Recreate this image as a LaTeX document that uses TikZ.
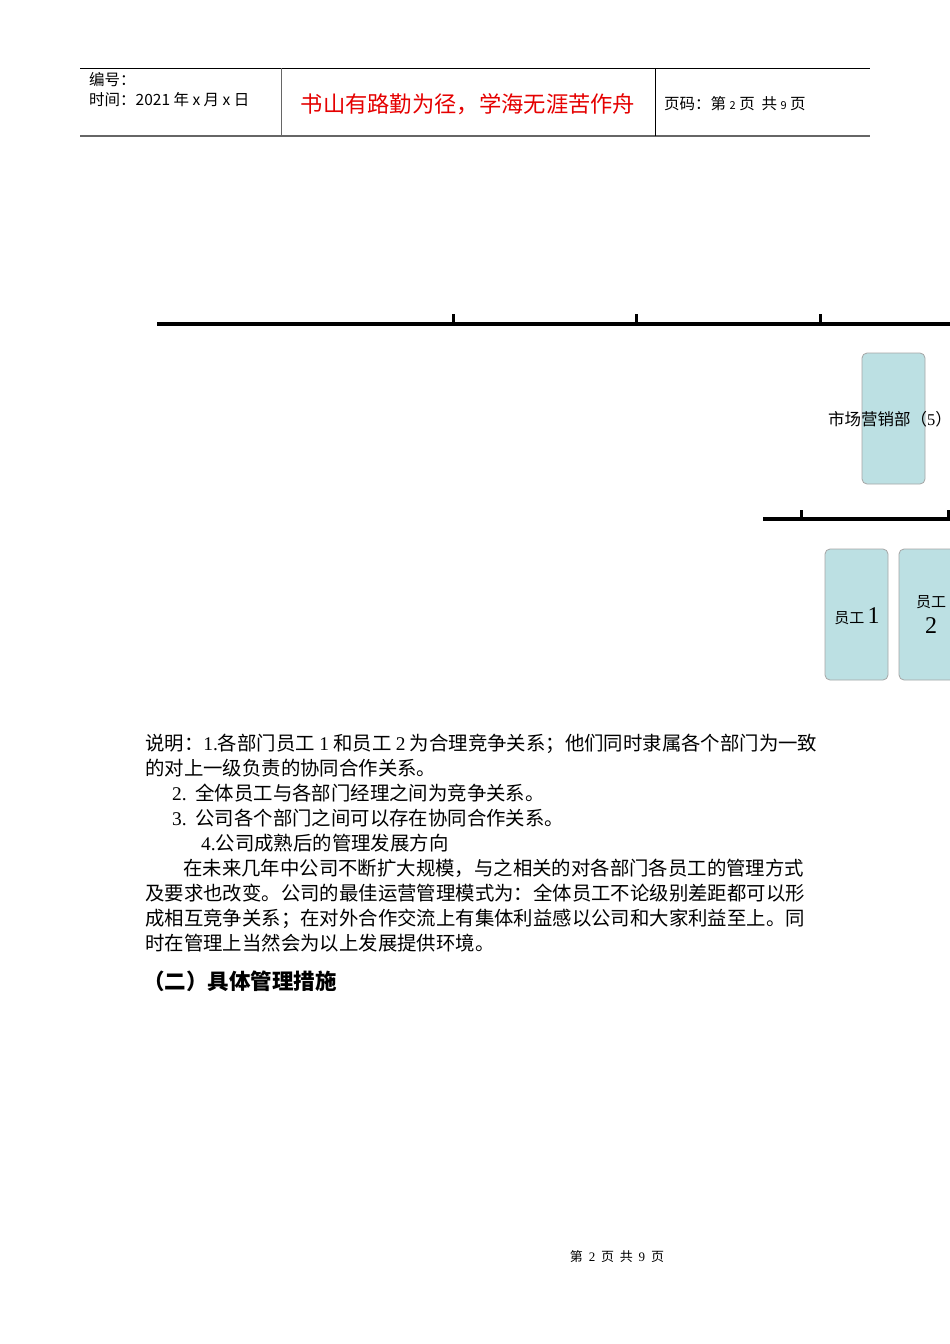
\documentclass[tikz,border=0pt]{standalone}
\usepackage{fontspec}
\setmainfont{Liberation Serif}
\newfontfamily\cjk{Noto Sans CJK SC}
\definecolor{boxfill}{HTML}{BCE0E3}
\begin{document}
\begin{tikzpicture}[x=1pt,y=-1pt,
  box/.style={draw=black!35,fill=boxfill,rounded corners=5pt,line width=0.8pt},
  bar/.style={line width=3.5pt},
  tick/.style={line width=3pt},
  body/.style={anchor=base west,inner sep=0pt,font=\cjk\fontsize{19.4}{22}\selectfont},
  hdr/.style={anchor=base west,inner sep=0pt,font=\cjk\fontsize{15.5}{17}\selectfont}]
\useasboundingbox (0,0) rectangle (950,1344);
\clip (0,0) rectangle (950,1344);
\fill[white] (0,0) rectangle (950,1344);
% header
\draw[line width=0.8pt] (80,68) -- (870,68);
\draw[line width=1.5pt,black!60] (80,136) -- (870,136);
\draw[line width=1pt,black!60] (281,68) -- (281,136);
\draw[line width=0.8pt] (655,68) -- (655,136);
\node[hdr] (h1) at (89,85) {编号：};
\node[hdr] (h2) at (89,105) {时间：2021 年 x 月 x 日};
\node[anchor=base,inner sep=0pt,text=red!90!black,font=\cjk\fontsize{22.3}{24}\selectfont] (title) at (468,112) {书山有路勤为径，学海无涯苦作舟};
\node[hdr] (h3) at (664,109) {页码：第 {\fontsize{11}{12}\selectfont 2} 页\ \ 共 {\fontsize{11}{12}\selectfont 9} 页};
% org chart
\draw[bar] (157,324) -- (955,324);
\foreach \x in {453,636,820} \draw[tick] (\x,324) -- (\x,314);
\node[box,minimum width=63pt,minimum height=131pt,inner sep=0pt] (mkt) at (893.5,418.5) {};
\node[anchor=base,inner sep=0pt,font=\cjk\fontsize{16.5}{18}\selectfont] (mktl) at (890,425) {市场营销部（{\rmfamily 5}）};
\draw[bar] (763,519) -- (955,519);
\foreach \x in {801,948} \draw[tick] (\x,519) -- (\x,510);
\node[box,minimum width=63pt,minimum height=131pt,inner sep=0pt] (e1) at (856.5,614.5) {};
\node[anchor=base,inner sep=0pt] (e1l) at (857,623) {{\cjk\fontsize{15}{16}\selectfont 员工 }{\fontsize{24}{24}\selectfont 1}};
\node[box,minimum width=63pt,minimum height=131pt,inner sep=0pt] (e2) at (930.5,614.5) {};
\node[anchor=base,inner sep=0pt,font=\cjk\fontsize{15}{16}\selectfont] (e2a) at (931,607) {员工};
\node[anchor=base,inner sep=0pt,font=\fontsize{24}{24}\selectfont] (e2b) at (931,633) {2};
% body text
\node[body] (l1) at (145,750) {说明：{\rmfamily 1.}各部门员工 {\rmfamily 1} 和员工 {\rmfamily 2} 为合理竞争关系；他们同时隶属各个部门为一致};
\node[body] (l2) at (145,775) {的对上一级负责的协同合作关系。};
\node[body] (l3) at (172,800) {{\rmfamily 2.}\ \ 全体员工与各部门经理之间为竞争关系。};
\node[body] (l4) at (172,825) {{\rmfamily 3.}\ \ 公司各个部门之间可以存在协同合作关系。};
\node[body] (l5) at (201,850) {{\rmfamily 4.}公司成熟后的管理发展方向};
\node[body] (l6) at (183,875) {在未来几年中公司不断扩大规模，与之相关的对各部门各员工的管理方式};
\node[body] (l7) at (145,900) {及要求也改变。公司的最佳运营管理模式为：全体员工不论级别差距都可以形};
\node[body] (l8) at (145,925) {成相互竞争关系；在对外合作交流上有集体利益感以公司和大家利益至上。同};
\node[body] (l9) at (145,950) {时在管理上当然会为以上发展提供环境。};
\node[anchor=base west,inner sep=0pt,font=\cjk\bfseries\fontsize{21.5}{23}\selectfont] (hd) at (143,989) {（二）具体管理措施};
% footer
\node[anchor=base,inner sep=0pt,font=\cjk\fontsize{13}{14}\selectfont] (ft) at (617,1261) {第\ \ {\rmfamily 2}\ \ 页\ \ 共\ \ {\rmfamily 9}\ \ 页};
\end{tikzpicture}
\end{document}
